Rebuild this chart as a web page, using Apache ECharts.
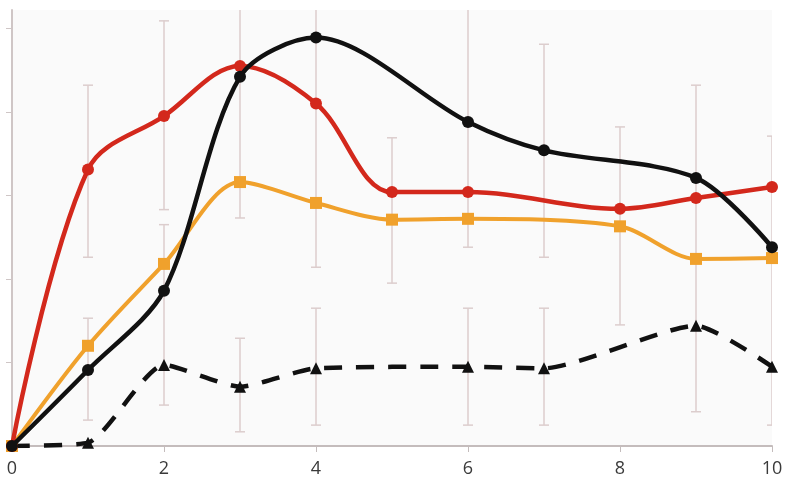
<!DOCTYPE html>
<html>
<head>
<meta charset="utf-8">
<script src="https://cdn.jsdelivr.net/npm/echarts@6/dist/echarts.min.js"></script>
<style>
  html, body { margin: 0; padding: 0; background: #fff; }
  #chart { width: 788px; height: 491px; }
</style>
</head>
<body>
<div id="chart"></div>
<script>
// values
const blackX = [0, 1, 2, 3, 4, 6, 7, 9, 10];
const blackY = [0, 0.91, 1.86, 4.42, 4.89, 3.88, 3.54, 3.21, 2.38];
const redX = [0, 1, 2, 3, 4, 5, 6, 8, 9, 10];
const redY = [0, 3.31, 3.95, 4.55, 4.10, 3.04, 3.04, 2.84, 2.97, 3.10];
const orangeX = [0, 1, 2, 3, 4, 5, 6, 8, 9, 10];
const orangeY = [0, 1.20, 2.18, 3.16, 2.91, 2.71, 2.72, 2.63, 2.24, 2.25];
const dashX = [0, 1, 2, 3, 4, 6, 7, 9, 10];
const dashY = [0, 0.04, 0.97, 0.71, 0.93, 0.95, 0.93, 1.44, 0.95];
// error bars: x, low, high
const errX =    [1, 1, 2, 2, 3, 3, 4, 4, 5, 6, 6, 7, 7, 8, 9, 10];
const errLow =  [2.26, 0.31, 2.83, 0.49, 2.73, 0.17, 2.14, 0.25, 1.95, 2.38, 0.25, 2.26, 0.25, 1.45, 0.41, 0.25];
const errHigh = [4.32, 1.53, 5.09, 2.65, 5.3, 1.29, 5.3, 1.65, 3.69, 5.3, 1.65, 4.81, 1.65, 3.82, 4.32, 3.71];
const xTicks = [0, 2, 4, 6, 8, 10];
const yTicks = [1, 2, 3, 4, 5];

const pairs = (xs, ys) => xs.map((x, i) => [x, ys[i]]);

var myChart = echarts.init(document.getElementById('chart'));
myChart.setOption({
  animation: false,
  grid: {
    left: 12, right: 16, top: 10, bottom: 45,
    show: true,
    backgroundColor: '#fafafa',
    borderWidth: 0
  },
  xAxis: {
    type: 'value',
    min: 0, max: 10, interval: 2,
    splitLine: { show: false },
    axisLine: { lineStyle: { color: '#c4bcbc', width: 2 } },
    axisTick: { show: true, length: 6, lineStyle: { color: '#c4bcbc' } },
    axisLabel: {
      fontSize: 18,
      color: '#3a3a3a',
      margin: 14,
      fontFamily: 'Open Sans',
      customValues: xTicks
    }
  },
  yAxis: {
    type: 'value',
    min: 0, max: 5.22,
    splitLine: { show: false },
    axisLine: { show: true, lineStyle: { color: '#cfc6c6', width: 2 } },
    axisTick: { show: true, length: 6, customValues: yTicks, lineStyle: { color: '#cfc6c6' } },
    axisLabel: { show: false }
  },
  series: [
    {
      type: 'custom',
      z: 1,
      clip: true,
      data: errX.map((x, i) => [x, errLow[i], errHigh[i]]),
      renderItem(params, api) {
        const lo = api.coord([api.value(0), api.value(1)]);
        const hi = api.coord([api.value(0), api.value(2)]);
        const w = 5;
        const style = { stroke: '#dccdcd', lineWidth: 1.5 };
        return {
          type: 'group',
          children: [
            { type: 'line', shape: { x1: lo[0], y1: lo[1], x2: hi[0], y2: hi[1] }, style },
            { type: 'line', shape: { x1: lo[0] - w, y1: lo[1], x2: lo[0] + w, y2: lo[1] }, style },
            { type: 'line', shape: { x1: hi[0] - w, y1: hi[1], x2: hi[0] + w, y2: hi[1] }, style }
          ]
        };
      }
    },
    {
      type: 'line',
      z: 3,
      smooth: 0.2,
      data: pairs(dashX, dashY),
      symbol: 'triangle',
      symbolSize: 12,
      itemStyle: { color: '#111' },
      lineStyle: { color: '#111', width: 4.5, type: [18, 14] }
    },
    {
      type: 'line',
      z: 4,
      smooth: 0.3,
      data: pairs(orangeX, orangeY),
      symbol: 'rect',
      symbolSize: 12,
      itemStyle: { color: '#f0a12c' },
      lineStyle: { color: '#f0a12c', width: 4 }
    },
    {
      type: 'line',
      z: 5,
      smooth: 0.35,
      data: pairs(redX, redY),
      symbol: 'circle',
      symbolSize: 12,
      itemStyle: { color: '#d3281c' },
      lineStyle: { color: '#d3281c', width: 4.5 }
    },
    {
      type: 'line',
      z: 6,
      smooth: 0.3,
      data: pairs(blackX, blackY),
      symbol: 'circle',
      symbolSize: 12,
      itemStyle: { color: '#111' },
      lineStyle: { color: '#111', width: 4.5 }
    }
  ]
});
</script>
</body>
</html>
